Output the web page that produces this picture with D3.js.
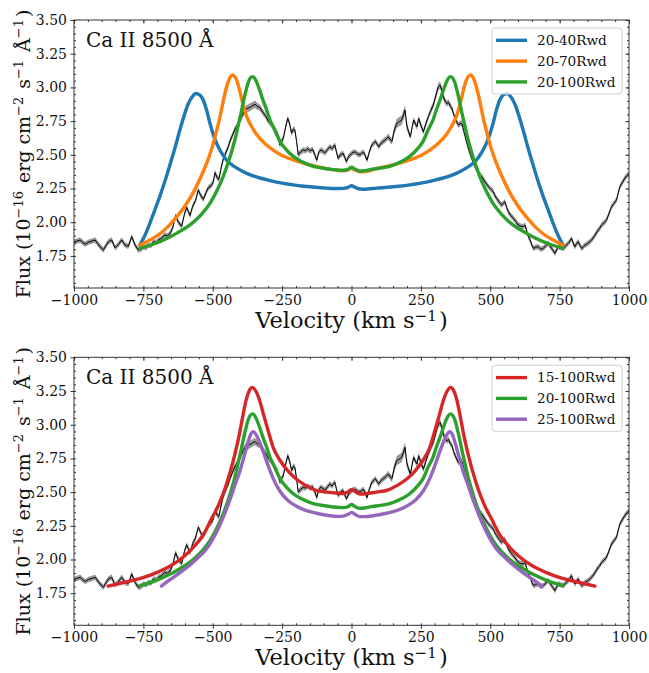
<!DOCTYPE html>
<html>
<head>
<meta charset="utf-8">
<script src="https://cdn.jsdelivr.net/npm/d3@7"></script>
<style>
body { margin: 0; background: #fff; }
text { font-family: "DejaVu Serif", serif; fill: #111; }
</style>
</head>
<body>
<svg id="chart" width="649" height="673"></svg>
<script>
var obsVel = [
  -1000,-990,-978,-966,-958,-948,-938,-924,-914,-906,
  -894,-884,-876,-864,-852,-840,-828,-816,-804,-792,
  -780,-768,-758,-750,-740,-732,-722,-714,-704,-694,
  -684,-674,-664,-654,-644,-634,-624,-612,-602,-594,
  -588,-582,-572,-562,-552,-544,-534,-524,-516,-506,
  -498,-492,-484,-478,-470,-462,-452,-444,-438,-428,
  -420,-414,-404,-396,-390,-380,-370,-360,-348,-340,
  -330,-318,-310,-300,-290,-282,-276,-266,-258,-252,
  -246,-238,-230,-224,-216,-210,-204,-198,-192,-184,
  -174,-166,-158,-150,-140,-132,-125,-118,-110,-102,
  -96,-86,-78,-70,-60,-54,-48,-40,-30,-24,
  -18,-10,-4,6,14,22,31,38,44,50,
  56,64,73,80,86,92,98,106,115,124,
  133,140,146,154,163,172,181,188,193,199,
  206,212,218,224,230,236,242,250,259,268,
  277,286,295,304,313,319,325,331,337,343,
  350,356,362,368,374,380,386,392,398,404,
  410,418,427,436,445,454,462,470,478,486,
  494,502,510,516,523,532,541,547,553,559,
  565,574,583,592,601,610,619,625,632,638,
  644,650,656,664,673,682,691,700,709,715,
  721,727,733,739,745,754,763,772,781,787,
  793,799,805,811,817,823,829,835,841,850,
  859,868,878,889,895,901,910,919,928,937,
  946,955,961,967,976,985,992,1000
];
var obsFlux = [
  1.850,1.860,1.868,1.845,1.838,1.852,1.858,1.868,1.840,1.818,
  1.794,1.830,1.855,1.868,1.810,1.835,1.868,1.830,1.822,1.893,
  1.830,1.794,1.800,1.818,1.812,1.830,1.826,1.855,1.850,1.870,
  1.880,1.905,1.898,1.915,1.960,2.050,2.000,1.970,2.060,2.110,
  2.080,2.050,2.120,2.160,2.240,2.200,2.170,2.220,2.256,2.270,
  2.300,2.367,2.330,2.318,2.400,2.470,2.520,2.560,2.600,2.650,
  2.690,2.710,2.750,2.780,2.810,2.840,2.848,2.860,2.875,2.860,
  2.850,2.810,2.790,2.750,2.730,2.700,2.670,2.640,2.573,2.600,
  2.620,2.700,2.770,2.740,2.660,2.690,2.684,2.600,2.500,2.520,
  2.536,2.530,2.545,2.530,2.540,2.500,2.460,2.520,2.536,2.525,
  2.515,2.540,2.560,2.545,2.573,2.520,2.474,2.500,2.510,2.480,
  2.450,2.490,2.500,2.520,2.520,2.505,2.500,2.515,2.520,2.490,
  2.460,2.520,2.573,2.585,2.600,2.580,2.560,2.585,2.600,2.615,
  2.634,2.610,2.600,2.680,2.733,2.745,2.758,2.800,2.832,2.720,
  2.670,2.634,2.700,2.758,2.730,2.708,2.770,2.720,2.670,2.730,
  2.783,2.830,2.870,2.940,3.005,3.018,2.980,2.930,2.900,2.880,
  2.890,2.860,2.845,2.800,2.770,2.740,2.720,2.735,2.730,2.680,
  2.634,2.570,2.510,2.460,2.412,2.385,2.355,2.337,2.310,2.285,
  2.263,2.245,2.230,2.200,2.177,2.150,2.128,2.140,2.152,2.110,
  2.078,2.050,2.030,2.005,1.979,1.970,1.967,1.980,1.930,1.890,
  1.868,1.830,1.806,1.815,1.818,1.800,1.806,1.825,1.843,1.825,
  1.806,1.790,1.769,1.795,1.818,1.812,1.806,1.825,1.843,1.860,
  1.880,1.845,1.818,1.840,1.855,1.830,1.806,1.815,1.830,1.840,
  1.855,1.875,1.905,1.942,1.955,1.979,1.995,2.016,2.065,2.115,
  2.140,2.165,2.215,2.263,2.295,2.326,2.345,2.360
];
var obsErr = [
  0.020,0.020,0.020,0.020,0.020,0.020,0.020,0.020,0.020,0.020,
  0.020,0.020,0.020,0.020,0.020,0.020,0.020,0.020,0.020,0.020,
  0.020,0.020,0.020,0.020,0.020,0.020,0.020,0.020,0.020,0.020,
  0.020,0.020,0.020,0.020,0.020,0.020,0.020,0.020,0.020,0.020,
  0.020,0.020,0.020,0.020,0.020,0.020,0.020,0.020,0.020,0.020,
  0.022,0.022,0.022,0.022,0.022,0.022,0.022,0.022,0.022,0.022,
  0.022,0.022,0.024,0.024,0.026,0.028,0.028,0.028,0.028,0.026,
  0.024,0.022,0.022,0.022,0.022,0.022,0.022,0.022,0.022,0.022,
  0.022,0.022,0.022,0.022,0.022,0.022,0.022,0.022,0.022,0.022,
  0.020,0.020,0.020,0.020,0.020,0.020,0.020,0.020,0.020,0.020,
  0.020,0.020,0.020,0.020,0.020,0.020,0.020,0.020,0.020,0.020,
  0.020,0.020,0.020,0.020,0.020,0.020,0.020,0.020,0.020,0.020,
  0.020,0.020,0.020,0.020,0.020,0.020,0.020,0.022,0.022,0.022,
  0.024,0.024,0.024,0.030,0.034,0.034,0.036,0.038,0.038,0.034,
  0.024,0.022,0.022,0.022,0.022,0.022,0.022,0.022,0.022,0.022,
  0.022,0.024,0.026,0.028,0.028,0.028,0.028,0.026,0.024,0.022,
  0.022,0.022,0.022,0.022,0.022,0.022,0.022,0.022,0.022,0.022,
  0.020,0.020,0.020,0.020,0.020,0.020,0.020,0.020,0.020,0.020,
  0.020,0.020,0.020,0.020,0.020,0.020,0.020,0.020,0.020,0.020,
  0.020,0.020,0.020,0.020,0.020,0.020,0.020,0.020,0.020,0.020,
  0.020,0.020,0.020,0.020,0.020,0.020,0.020,0.020,0.020,0.020,
  0.020,0.020,0.020,0.020,0.020,0.020,0.020,0.020,0.020,0.020,
  0.020,0.020,0.020,0.020,0.020,0.020,0.020,0.020,0.020,0.020,
  0.020,0.020,0.020,0.020,0.020,0.020,0.020,0.020,0.020,0.020,
  0.020,0.020,0.020,0.020,0.020,0.020,0.020,0.020
];

// disk models, 20-40 / 20-70 / 20-100 Rwd
var m2040Vel = [-763,-745,-727,-709,-691,-673,-655,-637,-619,-604,-589,-574,-561,-547,-534,-522,-510,-498,-486,-470,
  -450,-420,-390,-360,-330,-290,-250,-210,-170,-130,-90,-55,-30,-12,0,12,25,40,60,90,
  130,170,210,250,290,330,360,390,420,450,470,486,498,510,522,534,547,561,574,589,
  604,619,637,655,673,691,709,727,745,763];
var m2040Flux = [1.830,1.900,1.990,2.090,2.190,2.300,2.420,2.545,2.680,2.785,2.875,2.930,2.955,2.945,2.905,2.830,2.733,2.650,2.585,2.520,
  2.461,2.410,2.375,2.348,2.328,2.307,2.290,2.277,2.267,2.259,2.253,2.250,2.251,2.258,2.270,2.260,2.248,2.245,2.247,2.253,
  2.259,2.267,2.277,2.290,2.307,2.328,2.348,2.375,2.410,2.461,2.520,2.585,2.650,2.733,2.830,2.905,2.945,2.955,2.930,2.875,
  2.785,2.680,2.545,2.420,2.300,2.190,2.090,1.990,1.900,1.830];

var m2070Vel = [-762,-730,-700,-665,-630,-597,-565,-540,-516,-500,-486,-474,-462,-452,-444,-436,-428,-420,-412,-404,
  -396,-387,-378,-360,-342,-310,-282,-250,-210,-170,-130,-90,-55,-30,-12,0,12,30,50,90,
  130,170,210,250,282,310,342,360,378,387,396,404,412,420,428,436,444,452,462,474,
  486,500,516,540,565,597,630,665,700,730,762];
var m2070Flux = [1.830,1.865,1.900,1.960,2.040,2.130,2.240,2.350,2.470,2.570,2.680,2.780,2.900,2.990,3.045,3.080,3.092,3.078,3.045,2.985,
  2.915,2.845,2.785,2.710,2.650,2.580,2.535,2.495,2.462,2.436,2.416,2.398,2.386,2.382,2.388,2.400,2.388,2.374,2.376,2.398,
  2.416,2.436,2.462,2.495,2.535,2.580,2.650,2.710,2.785,2.845,2.915,2.985,3.045,3.078,3.092,3.080,3.045,2.990,2.900,2.780,
  2.680,2.570,2.470,2.350,2.240,2.130,2.040,1.960,1.900,1.865,1.830];

var m20100Vel = [-762,-710,-660,-620,-576,-540,-510,-486,-462,-440,-427,-418,-408,-398,-390,-381,-374,-366,-357,-348,
  -340,-331,-318,-307,-294,-275,-258,-240,-211,-180,-138,-115,-66,-45,-30,-12,0,12,30,45,
  66,115,138,180,211,240,258,275,294,307,318,331,340,348,357,366,374,381,390,398,
  408,418,427,440,462,486,510,540,576,620,660,710,762];
var m20100Flux = [1.806,1.840,1.885,1.930,1.990,2.060,2.140,2.230,2.340,2.470,2.560,2.630,2.720,2.810,2.890,2.970,3.025,3.065,3.080,3.065,
  3.030,2.980,2.900,2.840,2.760,2.680,2.600,2.550,2.490,2.450,2.415,2.405,2.390,2.386,2.385,2.392,2.408,2.394,2.380,2.382,
  2.390,2.405,2.415,2.450,2.490,2.550,2.600,2.680,2.760,2.840,2.900,2.980,3.030,3.065,3.080,3.065,3.025,2.970,2.890,2.810,
  2.720,2.630,2.560,2.470,2.340,2.230,2.140,2.060,1.990,1.930,1.885,1.840,1.806];

// 15-100 / 25-100 Rwd
var m15100Vel = [-877,-840,-800,-760,-700,-650,-605,-570,-535,-505,-480,-455,-433,-418,-403,-392,-380,-369,-357,-345,
  -331,-315,-301,-282,-259,-230,-198,-165,-130,-90,-50,-30,-12,0,12,30,50,90,
  130,165,198,230,259,282,301,315,331,345,357,369,380,392,403,418,433,455,480,505,
  535,570,605,650,700,760,800,840,877];
var m15100Flux = [1.803,1.820,1.840,1.860,1.905,1.955,2.020,2.090,2.180,2.300,2.400,2.530,2.680,2.800,2.940,3.060,3.180,3.250,3.277,3.250,
  3.180,3.060,2.960,2.830,2.740,2.660,2.595,2.550,2.515,2.500,2.492,2.490,2.502,2.520,2.505,2.486,2.488,2.500,
  2.515,2.550,2.595,2.660,2.740,2.830,2.960,3.060,3.180,3.250,3.277,3.250,3.180,3.060,2.940,2.800,2.680,2.530,2.400,2.300,
  2.180,2.090,2.020,1.955,1.905,1.860,1.840,1.820,1.803];

var m25100Vel = [-685,-665,-640,-600,-560,-522,-485,-459,-437,-417,-403,-389,-374,-364,-354,-343,-331,-318,-301,-282,
  -259,-230,-198,-165,-126,-78,-50,-30,-12,0,12,30,50,78,126,165,198,230,259,282,
  301,318,331,343,354,364,374,389,403,417,437,459,485,522,560,600,640,665,685];
var m25100Flux = [1.803,1.835,1.870,1.930,2.000,2.080,2.210,2.330,2.450,2.570,2.650,2.750,2.860,2.925,2.948,2.925,2.870,2.800,2.700,2.600,
  2.510,2.440,2.395,2.365,2.343,2.325,2.320,2.322,2.335,2.350,2.336,2.318,2.318,2.325,2.343,2.365,2.395,2.440,2.510,2.600,
  2.700,2.800,2.870,2.925,2.948,2.925,2.860,2.750,2.650,2.570,2.450,2.330,2.210,2.080,2.000,1.930,1.870,1.835,1.803];

var topNames = ["20-40Rwd", "20-70Rwd", "20-100Rwd"];
var bottomNames = ["15-100Rwd", "20-100Rwd", "25-100Rwd"];
var xTicks = [-1000, -750, -500, -250, 0, 250, 500, 750, 1000];
var yTicks = [1.75, 2.00, 2.25, 2.50, 2.75, 3.00, 3.25, 3.50];

var blue = "#1f77b4", orange = "#ff7f0e", green = "#2ca02c", red = "#d62728", purple = "#9467bd";

var svg = d3.select("#chart");
var xLeft = 74, xRight = 629, panelH = 268;

function zip(vel, flux) {
    return vel.map(function(v, i) { return {v: v, f: flux[i]}; });
}

var obs = obsVel.map(function(v, i) {
    return {v: v, f: obsFlux[i], e: obsErr[i]};
});

function supText(sel, parts, supSize) {
    parts.forEach(function(p) {
        if (p[1]) {
            sel.append("tspan").attr("dy", -7).attr("font-size", supSize).text(p[0]);
            sel.append("tspan").attr("dy", 7).text("\u200a");
        } else {
            sel.append("tspan").text(p[0]);
        }
    });
}

function drawPanel(top, models, id) {
    var bottom = top + panelH;
    var x = d3.scaleLinear().domain([-1000, 1000]).range([xLeft, xRight]);
    var y = d3.scaleLinear().domain([1.512, 3.5]).range([bottom, top]);
    var g = svg.append("g");

    g.append("clipPath").attr("id", "clip" + id)
        .append("rect").attr("x", xLeft).attr("y", top)
        .attr("width", xRight - xLeft).attr("height", panelH);

    var plot = g.append("g").attr("clip-path", "url(#clip" + id + ")");

    // error band + observed line
    var band = d3.area()
        .x(function(d) { return x(d.v); })
        .y0(function(d) { return y(d.f - d.e); })
        .y1(function(d) { return y(d.f + d.e); });
    plot.append("path").datum(obs).attr("d", band)
        .attr("fill", "#808080").attr("opacity", 0.8);
    var line = d3.line()
        .x(function(d) { return x(d.v); })
        .y(function(d) { return y(d.f); });
    plot.append("path").datum(obs).attr("d", line)
        .attr("fill", "none").attr("stroke", "#000").attr("stroke-width", 1.0);

    var smooth = d3.line()
        .x(function(d) { return x(d.v); })
        .y(function(d) { return y(d.f); })
        .curve(d3.curveMonotoneX);
    models.forEach(function(m) {
        plot.append("path").datum(m.data).attr("d", smooth)
            .attr("fill", "none").attr("stroke", m.color)
            .attr("stroke-width", 3.4).attr("stroke-linecap", "round");
    });

    // axes
    var xMinor = d3.range(-1000, 1001, 50);
    var yMinor = d3.range(1.55, 3.501, 0.05);
    function style(a) {
        a.select(".domain").remove();
        a.selectAll("line").attr("stroke", "#333");
        a.selectAll("text").attr("font-size", 14).attr("font-family", "DejaVu Serif").attr("fill", "#111");
    }
    g.append("g").attr("transform", "translate(0," + bottom + ")")
        .call(d3.axisBottom(x).tickValues(xTicks).tickSize(3.5).tickPadding(3.5).tickFormat(d3.format("d")))
        .call(style);
    g.append("g").attr("transform", "translate(0," + bottom + ")")
        .call(d3.axisBottom(x).tickValues(xMinor).tickSize(-2).tickFormat("")).call(style);
    g.append("g").attr("transform", "translate(0," + top + ")")
        .call(d3.axisTop(x).tickValues(xTicks).tickSize(-3.5).tickFormat("")).call(style);
    g.append("g").attr("transform", "translate(0," + top + ")")
        .call(d3.axisTop(x).tickValues(xMinor).tickSize(-2).tickFormat("")).call(style);
    g.append("g").attr("transform", "translate(" + xLeft + ",0)")
        .call(d3.axisLeft(y).tickValues(yTicks).tickSize(3.5).tickPadding(3.5).tickFormat(d3.format(".2f")))
        .call(style);
    g.append("g").attr("transform", "translate(" + xLeft + ",0)")
        .call(d3.axisLeft(y).tickValues(yMinor).tickSize(-2).tickFormat("")).call(style);
    g.append("g").attr("transform", "translate(" + xRight + ",0)")
        .call(d3.axisRight(y).tickValues(yTicks).tickSize(-3.5).tickFormat("")).call(style);
    g.append("g").attr("transform", "translate(" + xRight + ",0)")
        .call(d3.axisRight(y).tickValues(yMinor).tickSize(-2).tickFormat("")).call(style);

    g.append("rect").attr("x", xLeft).attr("y", top)
        .attr("width", xRight - xLeft).attr("height", panelH)
        .attr("fill", "none").attr("stroke", "#333").attr("stroke-width", 1);

    // line name
    g.append("text").attr("x", 86).attr("y", top + 26.7)
        .attr("font-size", 20).text("Ca II 8500 \u00c5");

    // legend
    g.append("rect").attr("x", 492).attr("y", top + 8).attr("width", 130).attr("height", 66)
        .attr("rx", 3).attr("fill", "#fff").attr("fill-opacity", 0.8)
        .attr("stroke", "#d0d0d0").attr("stroke-width", 1);
    models.forEach(function(m, i) {
        var ly = top + 20.3 + i * 20.8;
        g.append("line").attr("x1", 496).attr("x2", 527).attr("y1", ly).attr("y2", ly)
            .attr("stroke", m.color).attr("stroke-width", 3.4);
        g.append("text").attr("x", 537).attr("y", ly + 4.8)
            .attr("font-size", 13.6).text(m.name);
    });

    // axis labels
    var xl = g.append("text").attr("x", (xLeft + xRight) / 2).attr("y", bottom + 39.5)
        .attr("text-anchor", "middle").attr("font-size", 22.5);
    supText(xl, [["Velocity (km s", false], ["\u22121", true], [")", false]], 15);

    var yl = g.append("text")
        .attr("transform", "translate(30," + (top + panelH / 2) + ") rotate(-90)")
        .attr("text-anchor", "middle").attr("font-size", 19);
    supText(yl, [["Flux (10", false], ["\u221216", true], [" erg cm", false], ["\u22122", true],
        [" s", false], ["\u22121", true], [" \u00c5", false], ["\u22121", true], [")", false]], 13);
}

drawPanel(20, [
    {name: topNames[0], color: blue, data: zip(m2040Vel, m2040Flux)},
    {name: topNames[1], color: orange, data: zip(m2070Vel, m2070Flux)},
    {name: topNames[2], color: green, data: zip(m20100Vel, m20100Flux)}
], 0);

drawPanel(357.3, [
    {name: bottomNames[0], color: red, data: zip(m15100Vel, m15100Flux)},
    {name: bottomNames[1], color: green, data: zip(m20100Vel, m20100Flux)},
    {name: bottomNames[2], color: purple, data: zip(m25100Vel, m25100Flux)}
], 1);
</script>
</body>
</html>
